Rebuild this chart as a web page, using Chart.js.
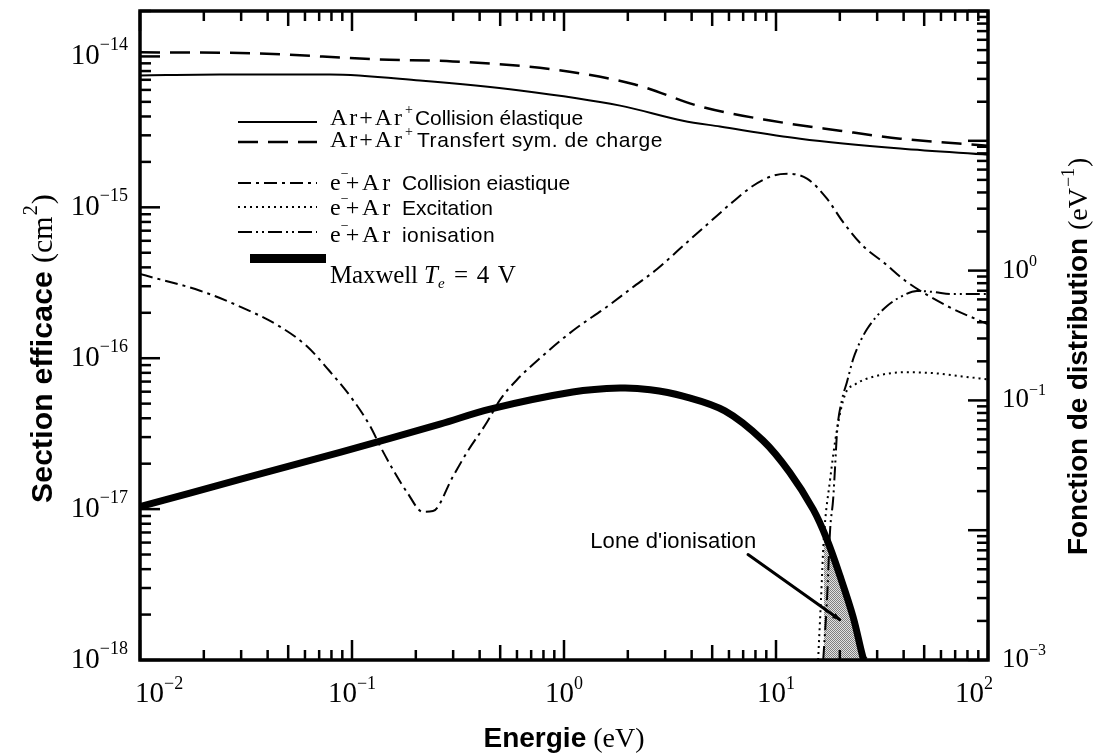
<!DOCTYPE html>
<html><head><meta charset="utf-8">
<script src="https://cdn.jsdelivr.net/npm/chart.js@4.4.0/dist/chart.umd.min.js"></script>
<style>html,body{margin:0;padding:0;background:#fff;}canvas{display:block;}</style>
</head><body>
<canvas id="c" width="1094" height="754"></canvas>
<script>
// ---- Data ----
// Ar + Ar+ elastic collision (left axis, cm^2)
const arElasticE = [0.01, 0.0238, 0.0787, 0.209, 0.62, 1.84, 3.64, 5.44, 13.0, 38.5, 100];
const arElasticS = [7.48e-15, 7.59e-15, 7.6e-15, 6.93e-15, 5.95e-15, 4.72e-15, 3.75e-15, 3.43e-15, 2.85e-15, 2.45e-15, 2.23e-15];
// Ar + Ar+ symmetric charge transfer
const arChargeE = [0.01, 0.033, 0.1355, 0.299, 0.887, 2.16, 4.39, 9.38, 20.0, 38.5, 100];
const arChargeS = [1.064e-14, 1.05e-14, 9.55e-15, 9.27e-15, 8.2e-15, 6.52e-15, 4.66e-15, 3.76e-15, 3.22e-15, 2.85e-15, 2.56e-15];
// e- + Ar elastic collision
const eElasticE = [0.01, 0.0192, 0.0296, 0.0457, 0.0613, 0.0762, 0.101, 0.122, 0.136, 0.156, 0.182, 0.216, 0.241, 0.299, 0.348, 0.433, 0.499, 0.600, 0.77, 1.10, 1.60, 2.11, 2.75, 3.64, 4.88, 6.27, 7.80, 9.68, 11.3, 14.0, 17.4, 20.7, 25.7, 32.0, 41.5, 64.1, 100];
const eElasticS = [3.61e-16, 2.8e-16, 2.2e-16, 1.62e-16, 1.2e-16, 8.6e-17, 5.3e-17, 3.53e-17, 2.6e-17, 1.83e-17, 1.29e-17, 9.6e-18, 9.7e-18, 1.64e-17, 2.37e-17, 3.76e-17, 5.3e-17, 7.2e-17, 1.0e-16, 1.52e-16, 2.2e-16, 2.95e-16, 3.9e-16, 5.55e-16, 8.0e-16, 1.09e-15, 1.39e-15, 1.62e-15, 1.67e-15, 1.55e-15, 1.14e-15, 8.0e-16, 5.55e-16, 4.34e-16, 3.2e-16, 2.22e-16, 1.68e-16];
// e- + Ar excitation
const eExcE = [15.8, 16.3, 16.8, 18.0, 19.4, 21.2, 23.6, 29.3, 40.6, 56.2, 73.8, 100];
const eExcS = [1e-18, 2.5e-18, 6.3e-18, 1.57e-17, 3.37e-17, 5.77e-17, 6.7e-17, 7.59e-17, 8.07e-17, 7.95e-17, 7.6e-17, 7.24e-17];
// e- + Ar ionisation
const eIonE = [16.7, 17.4, 18.0, 18.6, 19.0, 19.4, 20.5, 21.6, 23.1, 24.9, 26.9, 29.9, 33.4, 38.5, 46.2, 55.0, 68.4, 100];
const eIonS = [1e-18, 2.5e-18, 7.3e-18, 1.16e-17, 1.91e-17, 3.22e-17, 5.35e-17, 6.93e-17, 9.85e-17, 1.28e-16, 1.56e-16, 1.9e-16, 2.22e-16, 2.54e-16, 2.79e-16, 2.75e-16, 2.66e-16, 2.66e-16];
// Maxwell distribution Te = 4 V (right axis, eV^-1)
const maxwellE = [0.01, 0.0296, 0.0877, 0.260, 0.448, 1.10, 1.84, 2.55, 3.64, 5.74, 8.69, 11.6, 15.0, 17.4, 20.1, 23.1, 25.7, 26.2];
const maxwellF = [0.0152, 0.0246, 0.0398, 0.0656, 0.0857, 0.116, 0.1245, 0.121, 0.108, 0.083, 0.049, 0.0279, 0.0144, 0.00846, 0.00438, 0.00215, 0.00105, 0.001];
// Ionisation zone (shaded, under Maxwell curve)
const zoneE = [16.8, 17.4, 20.1, 23.1, 25.7, 26.2];
const zoneF = [0.0096, 0.00846, 0.00438, 0.00215, 0.00105, 0.001];

// Tick labels
const xTickVals = [0.01, 0.1, 1, 10, 100];
const xTickExp = ['\u22122', '\u22121', '0', '1', '2'];
const leftTickVals = [1e-18, 1e-17, 1e-16, 1e-15, 1e-14];
const leftTickExp = ['\u221218', '\u221217', '\u221216', '\u221215', '\u221214'];
const rightTickVals = [1e-3, 1e-1, 1];
const rightTickExp = ['\u22123', '\u22121', '0'];

// Annotation anchors (data units)
const zoneLabelPos = {E: 1.33, S: 5.54e-18};
const zoneArrowFrom = {E: 7.38, S: 5.0e-18};
const zoneArrowTo = {E: 20.0, S: 1.85e-18};

const SERIF = '"Liberation Serif", "DejaVu Serif", serif';
const SANS = '"Liberation Sans", Arial, sans-serif';

function xy(xs, ys) { return xs.map((x, i) => ({x: x, y: ys[i]})); }
function logTicks(min, max) {
  const out = [];
  const e0 = Math.floor(Math.log10(min) + 1e-9), e1 = Math.ceil(Math.log10(max) - 1e-9);
  for (let e = e0; e <= e1; e++) {
    for (let m = 1; m <= 9; m++) {
      const v = m * Math.pow(10, e);
      if (v >= min * (1 - 1e-9) && v <= max * (1 + 1e-9)) out.push(v);
    }
  }
  return out;
}
const setTicks = s => { s.ticks = logTicks(s.min, s.max).map(v => ({value: v})); };

const styles = {
  solid: [], dashed: [20, 10], dashdot: [13, 5, 3, 5], dotted: [2, 4], dashdotdot: [14, 4, 2, 4, 2, 4]
};
function lineDs(label, xs, ys, dash, w) {
  return {label, data: xy(xs, ys), yAxisID: 'y', borderColor: '#000', borderWidth: w || 2,
    borderDash: dash, fill: false, cubicInterpolationMode: 'monotone', pointRadius: 0, clip: 0, order: 1};
}

function fitText(ctx, s, x, y, font, w) {
  ctx.font = font;
  ctx.letterSpacing = '0px';
  if (w) {
    const m = ctx.measureText(s).width;
    let ls = (w - m) / s.length;
    ls = Math.max(-2, Math.min(4, ls));
    ctx.letterSpacing = ls + 'px';
  }
  ctx.fillText(s, x, y);
  const wd = ctx.measureText(s).width;
  ctx.letterSpacing = '0px';
  return wd;
}
function powLabel(ctx, exp, x, y, size, supSize, raise, align) {
  ctx.textAlign = 'left';
  ctx.font = size + 'px ' + SERIF;
  const wb = ctx.measureText('10').width;
  ctx.font = supSize + 'px ' + SERIF;
  const we = ctx.measureText(exp).width;
  const tot = wb + we;
  let sx = x;
  if (align === 'right') sx = x - tot; else if (align === 'center') sx = x - tot / 2;
  ctx.font = size + 'px ' + SERIF;
  ctx.fillText('10', sx, y);
  ctx.font = supSize + 'px ' + SERIF;
  ctx.fillText(exp, sx + wb, y - raise);
}

function stipple() {
  const c = document.createElement('canvas');
  c.width = 2; c.height = 2;
  const g = c.getContext('2d');
  g.fillStyle = '#e2e2e2'; g.fillRect(0, 0, 2, 2);
  g.fillStyle = '#808080'; g.fillRect(0, 0, 1, 1); g.fillRect(1, 1, 1, 1);
  return g.createPattern(c, 'repeat');
}

const decor = {
  id: 'decor',
  afterDraw(chart) {
    const {ctx, chartArea: a, scales} = chart;
    const sx = scales.x, sy = scales.y, sy2 = scales.y2;
    ctx.save();
    ctx.fillStyle = '#000'; ctx.strokeStyle = '#000';
    ctx.textBaseline = 'alphabetic';
    const line = (x1, y1, x2, y2) => { ctx.beginPath(); ctx.moveTo(x1, y1); ctx.lineTo(x2, y2); ctx.stroke(); };
    const mant = v => Math.round(v / Math.pow(10, Math.floor(Math.log10(v) + 1e-9)));
    ctx.setLineDash([]);
    ctx.lineWidth = 2.5;
    sx.ticks.forEach(t => {
      const p = sx.getPixelForValue(t.value); const m = mant(t.value);
      const L = m === 1 ? 20 : (m === 5 ? 15 : 10);
      line(p, a.bottom, p, a.bottom - L); line(p, a.top, p, a.top + L);
    });
    sy.ticks.forEach(t => {
      const p = sy.getPixelForValue(t.value); const m = mant(t.value);
      const L = m === 1 ? 20 : 11;
      line(a.left, p, a.left + L, p);
    });
    sy2.ticks.forEach(t => {
      const p = sy2.getPixelForValue(t.value); const m = mant(t.value);
      const L = m === 1 ? 20 : 11;
      line(a.right, p, a.right - L, p);
    });
    ctx.lineWidth = 3.5;
    ctx.strokeRect(a.left, a.top, a.right - a.left, a.bottom - a.top);

    // tick labels
    xTickVals.forEach((v, i) => {
      const p = sx.getPixelForValue(v);
      const al = i === 0 ? 'left' : (i === xTickVals.length - 1 ? 'right' : 'center');
      powLabel(ctx, xTickExp[i], al === 'left' ? p - 5 : (al === 'right' ? p + 5 : p), a.bottom + 42, 29, 18, 13, al);
    });
    leftTickVals.forEach((v, i) => {
      const p = sy.getPixelForValue(v);
      powLabel(ctx, leftTickExp[i], a.left - 12, p + 8, 29, 18, 14, 'right');
    });
    rightTickVals.forEach((v, i) => {
      const p = sy2.getPixelForValue(v);
      powLabel(ctx, rightTickExp[i], a.right + 14, p + 7, 27, 16, 12, 'left');
    });

    // axis titles
    ctx.textAlign = 'left';
    ctx.font = 'bold 28px ' + SANS;
    const w1 = ctx.measureText('Energie').width;
    ctx.font = '28px ' + SERIF;
    const w2 = ctx.measureText(' (eV)').width;
    const cx = (a.left + a.right) / 2;
    let bx = cx - (w1 + w2) / 2;
    ctx.font = 'bold 28px ' + SANS; ctx.fillText('Energie', bx, 747);
    ctx.font = '28px ' + SERIF; ctx.fillText(' (eV)', bx + w1, 747);
    ctx.save();
    ctx.translate(52, 503); ctx.rotate(-Math.PI / 2);
    fitText(ctx, 'Section efficace', 0, 0, 'bold 30px ' + SANS, 232);
    let lx = 240;
    ctx.font = '30px ' + SERIF; ctx.fillText('(cm', lx, 0); lx += ctx.measureText('(cm').width;
    ctx.font = '20px ' + SERIF; ctx.fillText('2', lx + 1, -15); lx += ctx.measureText('2').width + 2;
    ctx.font = '30px ' + SERIF; ctx.fillText(')', lx, 0);
    ctx.restore();
    ctx.save();
    ctx.translate(1087, 555); ctx.rotate(-Math.PI / 2);
    fitText(ctx, 'Fonction de distribution', 0, 0, 'bold 28px ' + SANS, 317);
    let rx = 325;
    ctx.font = '28px ' + SERIF; ctx.fillText('(eV', rx, 0); rx += ctx.measureText('(eV').width;
    ctx.font = '18px ' + SERIF; ctx.fillText('\u22121', rx + 1, -13); rx += ctx.measureText('\u22121').width + 2;
    ctx.font = '28px ' + SERIF; ctx.fillText(')', rx, 0);
    ctx.restore();

    // legend
    const rows = [
      {y: 122, dash: styles.solid, w: 2, base: 125, kind: 'Ar', text: 'Collision \u00e9lastique', tx: 415, tw: 168},
      {y: 142, dash: styles.dashed, w: 2.5, base: 147, kind: 'Ar', text: 'Transfert sym. de charge', tx: 417, tw: 246},
      {y: 183, dash: styles.dashdot, w: 2, base: 190, kind: 'e', text: 'Collision eiastique', tx: 402, tw: 168},
      {y: 207, dash: styles.dotted, w: 2, base: 215, kind: 'e', text: 'Excitation', tx: 402, tw: 91},
      {y: 232, dash: styles.dashdotdot, w: 2, base: 242, kind: 'e', text: 'ionisation', tx: 402, tw: 93}
    ];
    rows.forEach(r => {
      ctx.lineWidth = r.w; ctx.setLineDash(r.dash);
      line(238, r.y, 317, r.y);
      ctx.setLineDash([]);
      if (r.kind === 'Ar') {
        fitText(ctx, 'Ar+Ar', 330, r.base, '24px ' + SERIF, 74);
        ctx.font = '14px ' + SERIF; ctx.fillText('+', 405, r.base - 11);
      } else {
        ctx.font = '24px ' + SERIF; ctx.fillText('e', 330, r.base);
        const we = ctx.measureText('e').width;
        ctx.font = '14px ' + SERIF; ctx.fillText('\u2212', 330 + we, r.base - 12);
        fitText(ctx, '+Ar', 330 + we + 5, r.base, '24px ' + SERIF, 393 - (330 + we + 5));
      }
      fitText(ctx, r.text, r.tx, r.base, '21px ' + SANS, r.tw);
    });
    ctx.fillRect(250, 254, 76, 9);
    let mx = 330;
    mx += fitText(ctx, 'Maxwell ', mx, 283, '25px ' + SERIF, 94);
    ctx.font = 'italic 25px ' + SERIF; ctx.fillText('T', mx, 283); mx += ctx.measureText('T').width;
    ctx.font = 'italic 15px ' + SERIF; ctx.fillText('e', mx, 288); mx += ctx.measureText('e').width + 2;
    fitText(ctx, ' = 4 V', mx, 283, '25px ' + SERIF, 517 - mx);

    // ionisation zone label + arrow
    const lpX = sx.getPixelForValue(zoneLabelPos.E), lpY = sy.getPixelForValue(zoneLabelPos.S);
    fitText(ctx, "Lone d'ionisation", lpX, lpY, '22px ' + SANS, 166);
    const ax1 = sx.getPixelForValue(zoneArrowFrom.E), ay1 = sy.getPixelForValue(zoneArrowFrom.S);
    const ax2 = sx.getPixelForValue(zoneArrowTo.E), ay2 = sy.getPixelForValue(zoneArrowTo.S);
    ctx.lineWidth = 3; ctx.lineCap = 'round';
    line(ax1, ay1, ax2, ay2);
    const ang = Math.atan2(ay2 - ay1, ax2 - ax1);
    ctx.beginPath();
    ctx.moveTo(ax2, ay2);
    ctx.lineTo(ax2 - 8 * Math.cos(ang - 0.4), ay2 - 8 * Math.sin(ang - 0.4));
    ctx.lineTo(ax2 - 8 * Math.cos(ang + 0.4), ay2 - 8 * Math.sin(ang + 0.4));
    ctx.closePath(); ctx.fill();
    ctx.restore();
  }
};

const datasets = [
  lineDs('Ar+Ar+ Collision élastique', arElasticE, arElasticS, styles.solid, 2),
  lineDs('Ar+Ar+ Transfert sym. de charge', arChargeE, arChargeS, styles.dashed, 2.5),
  lineDs('e-+Ar Collision eiastique', eElasticE, eElasticS, styles.dashdot, 2),
  lineDs('e-+Ar Excitation', eExcE, eExcS, styles.dotted, 2),
  lineDs('e-+Ar ionisation', eIonE, eIonS, styles.dashdotdot, 2),
  {label: 'Maxwell Te = 4 V', data: xy(maxwellE, maxwellF), yAxisID: 'y2', borderColor: '#000', borderWidth: 7,
    fill: false, tension: 0.35, pointRadius: 0, clip: 0, order: 0},
  {label: "Zone d'ionisation", data: xy(zoneE, zoneF), yAxisID: 'y2', borderWidth: 0, borderColor: 'rgba(0,0,0,0)',
    backgroundColor: stipple(), fill: 'start', tension: 0.35, pointRadius: 0, clip: 0, order: 5}
];

new Chart(document.getElementById('c').getContext('2d'), {
  type: 'line',
  data: {datasets},
  options: {
    responsive: false, animation: false, devicePixelRatio: 1,
    layout: {padding: {top: 11, left: 0, right: 0, bottom: 0}},
    plugins: {legend: {display: false}, tooltip: {enabled: false}},
    elements: {point: {radius: 0}},
    scales: {
      x: {type: 'logarithmic', position: 'bottom', min: 0.01, max: 100,
        ticks: {display: false}, grid: {display: false}, border: {display: false},
        afterBuildTicks: setTicks, afterFit: s => { s.height = 94; }},
      y: {type: 'logarithmic', position: 'left', min: 1e-18, max: 2e-14,
        ticks: {display: false}, grid: {display: false}, border: {display: false},
        afterBuildTicks: setTicks, afterFit: s => { s.width = 140; }},
      y2: {type: 'logarithmic', position: 'right', min: 1e-3, max: 100,
        ticks: {display: false}, grid: {display: false}, border: {display: false},
        afterBuildTicks: setTicks, afterFit: s => { s.width = 106; }}
    }
  },
  plugins: [decor]
});
</script>
</body></html>
